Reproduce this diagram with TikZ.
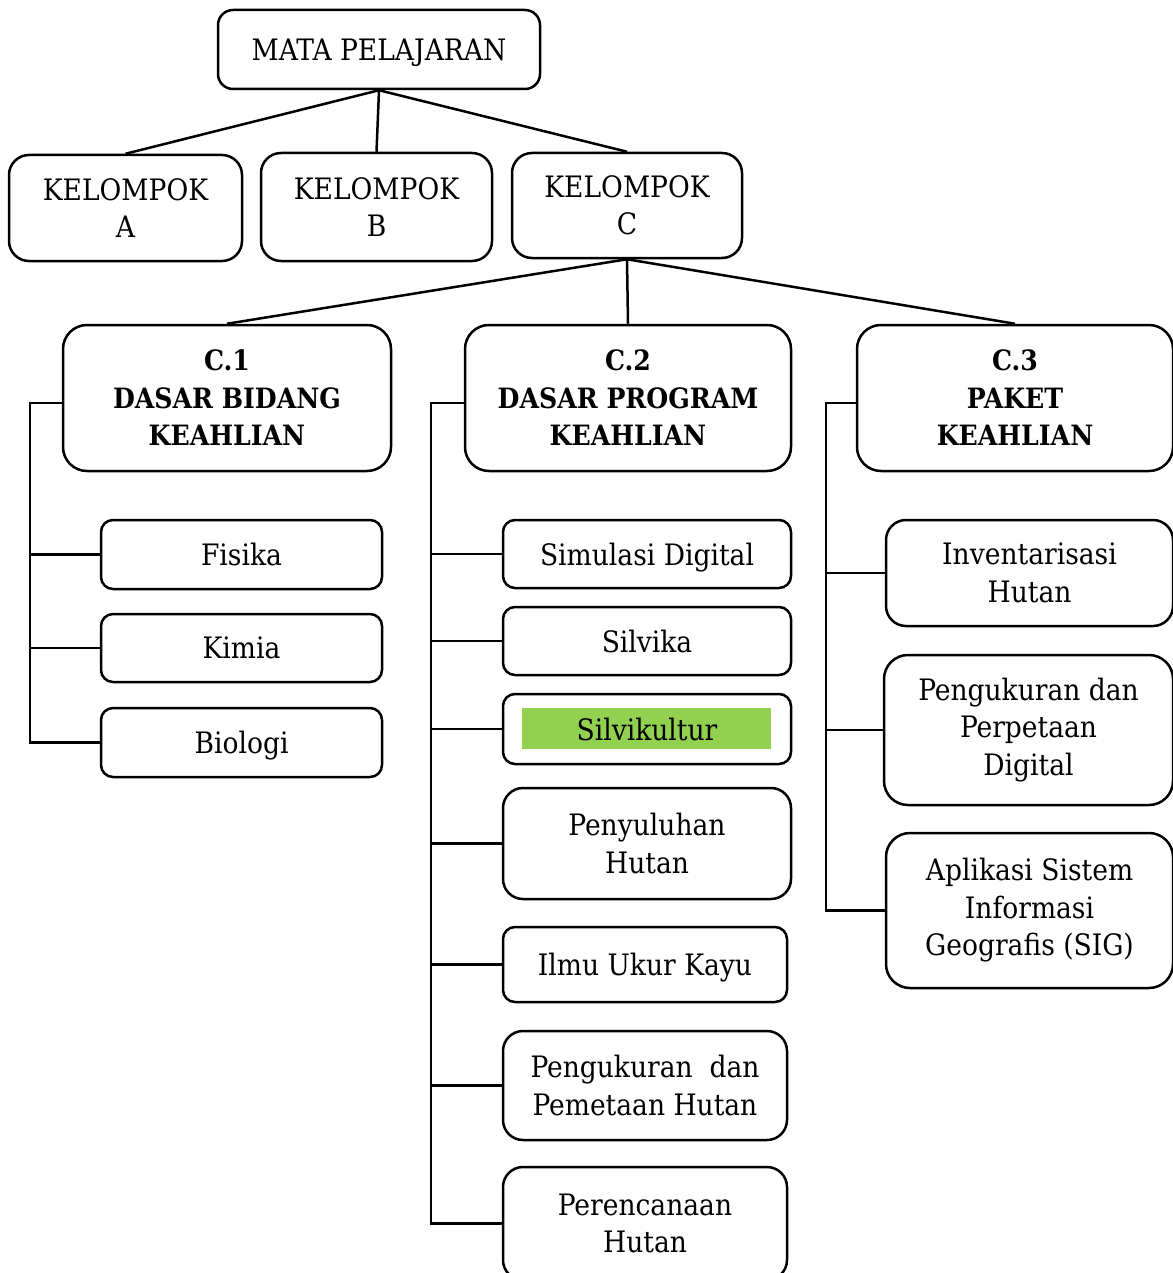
\documentclass[tikz,border=0pt]{standalone}
\usepackage{fontspec}
\setmainfont{DejaVu Serif Condensed}
\usepackage{tikz}
\definecolor{hijau}{HTML}{92D050}

\begin{document}
\begin{tikzpicture}[x=1pt,y=-1pt,
    kotak/.style={draw,line width=2.5pt,rounded corners=#1,inner sep=0pt,align=center,
      font=\fontsize{29.5}{37.5}\selectfont},
    kotak/.default=12pt,
    satu/.style={text depth=0pt},
    judul/.style={kotak=24pt,font=\fontsize{28}{37.5}\selectfont\bfseries},
    garis/.style={line width=2.5pt}]
  \useasboundingbox (0,0) rectangle (1172,1273);

  % tingkat atas
  \node[kotak=15pt,satu,minimum width=322pt,minimum height=79pt] (mp) at (379,49.5) {MATA PELAJARAN};
  \node[kotak=20pt,minimum width=233pt,minimum height=106pt] (ka) at (125.5,208) {KELOMPOK\\A};
  \node[kotak=20pt,minimum width=231pt,minimum height=108pt] (kb) at (376.5,207) {KELOMPOK\\B};
  \node[kotak=20pt,minimum width=230pt,minimum height=105pt] (kc) at (627,205.5) {KELOMPOK\\C};
  \draw[garis] (mp.south) -- (ka.north);
  \draw[garis] (mp.south) -- (kb.north);
  \draw[garis] (mp.south) -- (kc.north);

  % kelompok C
  \node[judul,minimum width=328pt,minimum height=146pt] (c1) at (227,398) {C.1\\DASAR BIDANG\\KEAHLIAN};
  \node[judul,minimum width=326pt,minimum height=146pt] (c2) at (628,398) {C.2\\DASAR PROGRAM\\KEAHLIAN};
  \node[judul,minimum width=316pt,minimum height=146pt] (c3) at (1015,398) {C.3\\PAKET\\KEAHLIAN};
  \draw[garis] (kc.south) -- (c1.north);
  \draw[garis] (kc.south) -- (c2.north);
  \draw[garis] (kc.south) -- (c3.north);

  % C.1
  \node[kotak,satu,minimum width=281pt,minimum height=69pt] (fis) at (241.5,554.5) {Fisika};
  \node[kotak,satu,minimum width=281pt,minimum height=68pt] (kim) at (241.5,648) {Kimia};
  \node[kotak,satu,minimum width=281pt,minimum height=69pt] (bio) at (241.5,742.5) {Biologi};

  % C.2
  \node[kotak,satu,minimum width=288pt,minimum height=68pt] (sim) at (647,554) {Simulasi Digital};
  \node[kotak,satu,minimum width=288pt,minimum height=68pt] (svk) at (647,641) {Silvika};
  \node[fill=hijau,inner sep=0pt,minimum width=249pt,minimum height=41pt] (sktbg) at (646.5,728.5) {};
  \node[kotak,satu,minimum width=288pt,minimum height=70pt] (skt) at (647,729) {Silvikultur};
  \node[kotak=20pt,minimum width=288pt,minimum height=111pt] (pny) at (647,843.5) {Penyuluhan\\Hutan};
  \node[kotak,satu,minimum width=284pt,minimum height=75pt] (iuk) at (645,964.5) {Ilmu Ukur Kayu};
  \node[kotak=20pt,minimum width=284pt,minimum height=109pt] (pph) at (645,1085.5) {Pengukuran~ dan\\Pemetaan Hutan};
  \node[kotak=20pt,minimum width=284pt,minimum height=113pt] (prc) at (645,1223.5) {Perencanaan\\Hutan};

  % C.3
  \node[kotak=20pt,minimum width=287pt,minimum height=106pt] (inv) at (1029.5,573) {Inventarisasi\\Hutan};
  \node[kotak=24pt,minimum width=289pt,minimum height=150pt] (ppd) at (1028.5,730) {Pengukuran dan\\Perpetaan\\Digital};
  \node[kotak=24pt,minimum width=287pt,minimum height=155pt] (sig) at (1029.5,910.5) {Aplikasi Sistem\\Informasi\\Geografis (SIG)};

  % garis cabang
  \coordinate (r1) at (30,0);
  \coordinate (r2) at (431,0);
  \coordinate (r3) at (826,0);
  \draw[garis] ([yshift=-5pt]c1.west) -| (r1 |- bio.west) -- (bio.west);
  \foreach \n in {fis,kim}
    \draw[garis] (r1 |- \n.west) -- (\n.west);
  \draw[garis] ([yshift=-5pt]c2.west) -| (r2 |- prc.west) -- (prc.west);
  \foreach \n in {sim,svk,skt,pny,iuk,pph}
    \draw[garis] (r2 |- \n.west) -- (\n.west);
  \draw[garis] ([yshift=-5pt]c3.west) -| (r3 |- sig.west) -- (sig.west);
  \foreach \n in {inv,ppd}
    \draw[garis] (r3 |- \n.west) -- (\n.west);
\end{tikzpicture}
\end{document}
